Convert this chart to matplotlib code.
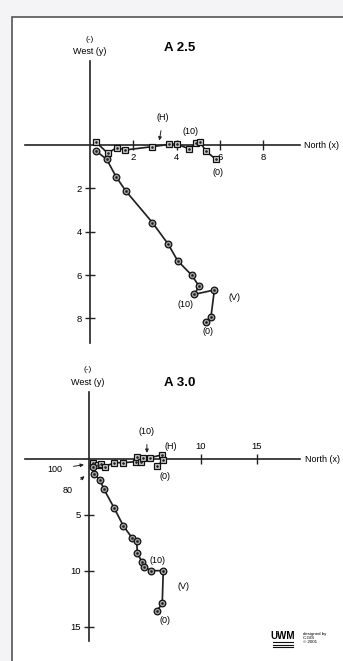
import matplotlib.pyplot as plt
from matplotlib.patches import Rectangle
from matplotlib.lines import Line2D

plt.rcParams['font.family'] = ['Liberation Sans Narrow', 'Liberation Sans', 'DejaVu Sans']

# --- data (x = North, y = West, y positive downward) ---
h25_x = [0.26, 0.82, 1.23, 1.62, 2.85, 3.66, 4.0, 4.57, 4.88, 5.08, 5.34, 5.8]
h25_y = [-0.15, 0.38, 0.12, 0.23, 0.08, -0.03, -0.05, 0.18, -0.08, -0.15, 0.28, 0.65]
v25_x = [0.26, 0.77, 1.2, 1.65, 2.88, 3.61, 4.05, 4.69, 5.03, 4.82, 5.74, 5.58, 5.34]
v25_y = [0.26, 0.66, 1.46, 2.12, 3.58, 4.58, 5.35, 6.0, 6.51, 6.89, 6.69, 7.95, 8.15]

h30_x = [0.38, 0.78, 1.07, 1.43, 2.23, 3.06, 4.17, 4.26, 4.62, 4.85, 5.45, 6.49, 6.63, 6.1]
h30_y = [0.33, 0.54, 0.47, 0.69, 0.33, 0.33, 0.24, -0.2, 0.24, -0.12, -0.12, -0.36, 0.09, 0.63]
v30_x = [0.38, 0.45, 0.98, 1.34, 2.26, 3.06, 3.87, 4.26, 4.31, 4.71, 4.91, 5.51, 6.63, 6.54, 6.04]
v30_y = [0.75, 1.3, 1.88, 2.71, 4.40, 5.96, 7.08, 7.29, 8.37, 9.17, 9.62, 9.97, 9.97, 12.9, 13.6]

xticks25 = [2, 4, 6, 8]
yticks25 = [2, 4, 6, 8]
xticks30 = [10, 15]
yticks30 = [5, 10, 15]

W, H = 343, 661
fig = plt.figure(figsize=(W / 100, H / 100), dpi=100, facecolor='#f4f4f6')

# page frame: white sheet with a border on top and left
fig.patches.append(Rectangle((12 / W, -0.1), 1.2, 1.1 - 17 / H, transform=fig.transFigure,
                             facecolor='white', edgecolor='#555555', lw=1.2, zorder=-5))


def make_axes(ox, oy, scale, left, right, top, bottom):
    # axes placed in pixels, data origin at pixel (ox, oy), equal scale
    ax = fig.add_axes([left / W, 1 - bottom / H, (right - left) / W, (bottom - top) / H])
    ax.set_xlim((left - ox) / scale, (right - ox) / scale)
    ax.set_ylim((bottom - oy) / scale, (top - oy) / scale)
    ax.patch.set_visible(False)
    for s in ['left', 'right', 'top', 'bottom']:
        ax.spines[s].set_visible(False)
    ax.spines['left'].set_visible(True)
    ax.spines['left'].set_position(('data', 0))
    ax.spines['left'].set_linewidth(1.2)
    ax.spines['left'].set_color('#222222')
    ax.tick_params(direction='inout', length=7.5, width=1.0, labelsize=6.8, pad=2,
                   color='#222222')
    return ax


def draw_series(ax, hx, hy, vx, vy):
    kw = dict(color='#222222', lw=1.25, ms=4.8, mec='#111111', mew=0.9, zorder=3)
    ax.plot(hx, hy, marker='s', mfc='#cfcfcf', **kw)
    ax.plot(vx, vy, marker='o', mfc='#a0a0a0', **kw)
    ax.plot(hx + vx, hy + vy, ls='none', marker='.', ms=1.8, color='#222222', zorder=4)


# ---------------- A 2.5 ----------------
ax1 = make_axes(90, 145, 21.67, 25, 300, 61, 343)
ax1.spines['bottom'].set_visible(True)
ax1.spines['bottom'].set_position(('data', 0))
ax1.spines['bottom'].set_linewidth(1.2)
ax1.spines['bottom'].set_color('#222222')
ax1.set_xticks(xticks25)
ax1.set_yticks(yticks25)
draw_series(ax1, h25_x, h25_y, v25_x, v25_y)

ax1.text(0, -4.88, '(-)', ha='center', va='center', fontsize=6)
ax1.text(0, -4.3, 'West (y)', ha='center', va='center', fontsize=6.5)
ax1.text(4.15, -4.46, 'A 2.5', ha='center', va='center', fontsize=9.5, fontweight='bold')
ax1.text(9.88, 0, 'North (x)', ha='left', va='center', fontsize=6.5, clip_on=False)
ax1.annotate('(H)', xy=(3.18, -0.08), xytext=(3.37, -1.25), ha='center', va='center', fontsize=6.5,
             arrowprops=dict(arrowstyle='-|>', color='#222222', lw=0.7, mutation_scale=5,
                             shrinkA=4))
ax1.text(4.66, -0.6, '(10)', ha='center', va='center', fontsize=6.5)
ax1.text(5.9, 1.25, '(0)', ha='center', va='center', fontsize=6.5)
ax1.text(4.43, 7.38, '(10)', ha='center', va='center', fontsize=6.5)
ax1.text(6.65, 7.06, '(V)', ha='center', va='center', fontsize=6.5)
ax1.text(5.46, 8.62, '(0)', ha='center', va='center', fontsize=6.5)

# ---------------- A 3.0 ----------------
ax2 = make_axes(89, 459, 11.2, 25, 300, 392, 641)
ax2.spines['top'].set_visible(True)
ax2.spines['top'].set_position(('data', 0))
ax2.spines['top'].set_linewidth(1.2)
ax2.spines['top'].set_color('#222222')
ax2.xaxis.set_ticks_position('top')
ax2.set_xticks(xticks30)
ax2.set_yticks(yticks30)
draw_series(ax2, h30_x, h30_y, v30_x, v30_y)

ax2.text(-0.09, -7.95, '(-)', ha='center', va='center', fontsize=6)
ax2.text(-0.09, -6.8, 'West (y)', ha='center', va='center', fontsize=6.5)
ax2.text(8.13, -6.8, 'A 3.0', ha='center', va='center', fontsize=9.5, fontweight='bold')
ax2.text(19.3, 0, 'North (x)', ha='left', va='center', fontsize=6.5, clip_on=False)
ax2.annotate('(10)', xy=(5.18, -0.3), xytext=(5.15, -2.44), ha='center', va='center', fontsize=6.5,
             arrowprops=dict(arrowstyle='-|>', color='#222222', lw=0.7, mutation_scale=5,
                             shrinkA=4))
ax2.text(7.32, -1.1, '(H)', ha='center', va='center', fontsize=6.5)
ax2.text(6.79, 1.58, '(0)', ha='center', va='center', fontsize=6.5)
ax2.text(6.13, 9.08, '(10)', ha='center', va='center', fontsize=6.5)
ax2.text(8.42, 11.4, '(V)', ha='center', va='center', fontsize=6.5)
ax2.text(6.79, 14.38, '(0)', ha='center', va='center', fontsize=6.5)
ax2.annotate('100', xy=(-0.21, 0.47), xytext=(-3.04, 0.92), ha='center', va='center', fontsize=6.5,
             arrowprops=dict(arrowstyle='-|>', color='#222222', lw=0.7, mutation_scale=5,
                             shrinkA=6))
ax2.annotate('80', xy=(-0.21, 1.37), xytext=(-1.9, 2.83), ha='center', va='center', fontsize=6.5,
             arrowprops=dict(arrowstyle='-|>', color='#222222', lw=0.7, mutation_scale=5,
                             shrinkA=5))

# logo corner
fig.text(283 / W, 1 - 636 / H, 'UWM', ha='center', va='center', fontsize=7, fontweight='bold')
for dy in (642, 644.5, 647):
    fig.lines.append(Line2D([273 / W, 293 / W], [1 - dy / H] * 2, transform=fig.transFigure,
                            color='#111111', lw=0.8))
fig.text(303 / W, 1 - 638 / H, 'designed by\nC-GIS\n\u00a9 2001', ha='left', va='center',
         fontsize=3.2, linespacing=1.0)

fig.savefig('out.png', dpi=100, facecolor=fig.get_facecolor())
